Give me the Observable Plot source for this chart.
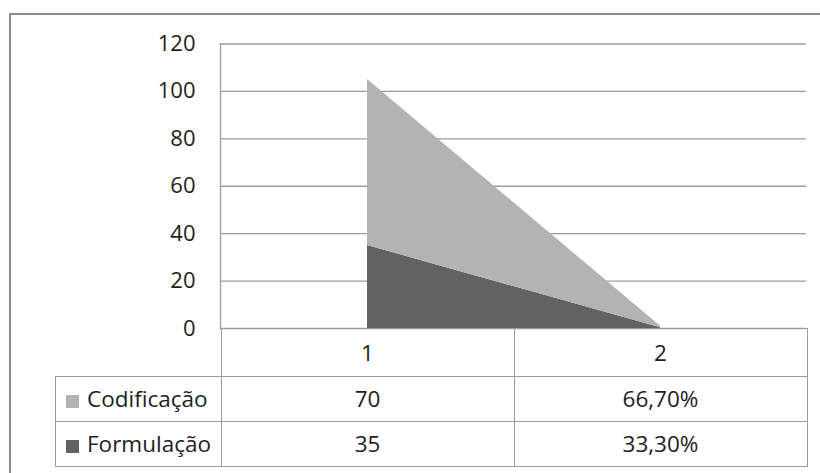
<!DOCTYPE html>
<html>
<head>
<meta charset="utf-8">
<script src="https://cdn.jsdelivr.net/npm/d3@7"></script>
<script src="https://cdn.jsdelivr.net/npm/@observablehq/plot@0.6"></script>
<style>
  html, body { margin: 0; padding: 0; background: #fff; width: 820px; height: 473px; overflow: hidden; }
  #wrap { position: relative; width: 820px; height: 473px; font-family: "Open Sans", sans-serif; color: #1e1e1e; }
  #outline { position: absolute; left: 9px; top: 13px; width: 900px; height: 600px; border: 2px solid #8c8c8c; box-sizing: border-box; }
  #chart { position: absolute; left: 0; top: 0; }
  #datatable { position: absolute; border-collapse: collapse; font-size: 22.5px; table-layout: fixed; }
  #datatable td { border: 1.5px solid #9c9c9c; text-align: center; padding: 0; white-space: nowrap; }
  #datatable td.label { text-align: left; padding-left: 10px; }
  #datatable td.blank { border-top: none; border-left: none; }
  .swatch { display: inline-block; width: 13px; height: 13px; margin-right: 8px; vertical-align: -1px; }
</style>
</head>
<body>
<div id="wrap">
  <div id="outline"></div>
  <div id="chart"></div>
  <table id="datatable"></table>
</div>
<script>
// Categories on the x axis and one value per category for each series
const categories = [1, 2];
const seriesNames = ["Codificação", "Formulação"];
const codificacao = [70, 0.667];
const formulacao = [35, 0.333];
// How each category column is written in the data table
const columnFormats = ["integer", "percent"];
const yTicks = [0, 20, 40, 60, 80, 100, 120];
const seriesColors = ["#b3b3b3", "#626262"];

// Long table; Formulação first so it sits at the bottom of the stack
const rows = [];
categories.forEach((c, i) => rows.push({cat: c, serie: "Formulação", value: formulacao[i]}));
categories.forEach((c, i) => rows.push({cat: c, serie: "Codificação", value: codificacao[i]}));

const chart = Plot.plot({
  width: 820,
  height: 346,
  marginLeft: 220,
  marginRight: 14,
  marginTop: 43.5,
  marginBottom: 18,
  style: {fontFamily: "Open Sans, sans-serif", fontSize: "22px", color: "#1e1e1e", background: "transparent"},
  x: {type: "point", domain: categories, padding: 0.5, axis: null},
  y: {domain: [0, 120], axis: null},
  color: {domain: seriesNames, range: seriesColors},
  marks: [
    Plot.gridY(yTicks, {stroke: "#9c9c9c", strokeOpacity: 1, strokeWidth: 1.3}),
    Plot.areaY(rows, {x: "cat", y: "value", z: "serie", fill: "serie", fillOpacity: 1}),
    Plot.frame({anchor: "left", stroke: "#9c9c9c", strokeWidth: 1.3}),
    Plot.axisY(yTicks, {tickSize: 0, tickPadding: 25, fontSize: 22, fill: "#1e1e1e", label: null})
  ]
});
document.getElementById("chart").appendChild(chart);

// Data table under the plot, its columns aligned to the x scale
const xs = chart.scale("x");
const ys = chart.scale("y");
const step = xs.apply(categories[1]) - xs.apply(categories[0]);
const colLeft = xs.apply(categories[0]) - step / 2;
const tableLeft = 55;

const locale = d3.formatLocale({decimal: ",", thousands: ".", grouping: [3], currency: ["R$", ""]});
const formatters = {integer: locale.format("d"), percent: locale.format(".2%")};

const table = document.getElementById("datatable");
table.style.left = tableLeft + "px";
table.style.top = (ys.apply(0) - 0.5) + "px";

const colgroup = document.createElement("colgroup");
[colLeft - tableLeft, ...categories.map(() => step)].forEach(w => {
  const col = document.createElement("col");
  col.style.width = w + "px";
  colgroup.appendChild(col);
});
table.appendChild(colgroup);

const header = table.insertRow();
header.style.height = "48px";
const blank = header.insertCell();
blank.className = "blank";
categories.forEach(c => { header.insertCell().textContent = String(c); });

const seriesValues = {"Codificação": codificacao, "Formulação": formulacao};
seriesNames.forEach((name, si) => {
  const tr = table.insertRow();
  tr.style.height = "45px";
  const lab = tr.insertCell();
  lab.className = "label";
  const sw = document.createElement("span");
  sw.className = "swatch";
  sw.style.background = seriesColors[si];
  lab.appendChild(sw);
  lab.appendChild(document.createTextNode(name));
  seriesValues[name].forEach((v, ci) => {
    tr.insertCell().textContent = formatters[columnFormats[ci]](v);
  });
});
</script>
</body>
</html>
